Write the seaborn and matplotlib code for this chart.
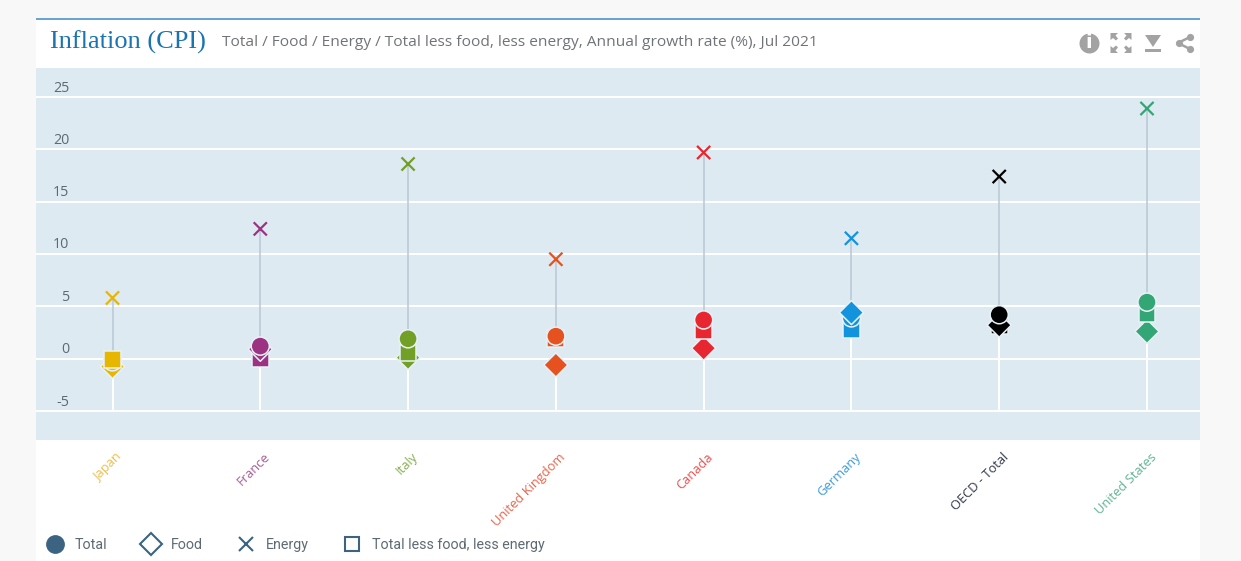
import numpy as np
import pandas as pd
import matplotlib
matplotlib.use("Agg")
import matplotlib.pyplot as plt
import matplotlib.transforms as mtrans
from matplotlib.lines import Line2D
from matplotlib.patches import Rectangle, Polygon
import seaborn as sns

countries = ["Japan", "France", "Italy", "United Kingdom", "Canada", "Germany", "OECD - Total", "United States"]
colors = ["#E6B600", "#9C3282", "#72A026", "#E5521F", "#E8262F", "#1293DD", "#000000", "#32A674"]
label_colors = ["#EDBE4A", "#A85C96", "#86AE50", "#E9644A", "#E8504F", "#3A9BDC", "#30384A", "#5FB592"]
total = [-0.3, 1.2, 1.9, 2.15, 3.7, 3.9, 4.2, 5.4]
food = [-0.75, 0.9, 0.1, -0.6, 1.0, 4.4, 3.2, 2.6]
energy = [5.8, 12.4, 18.6, 9.5, 19.7, 11.5, 17.4, 23.9]
core = [-0.1, 0.0, 0.55, 1.9, 2.65, 2.8, 3.15, 4.3]
yticks = [-5, 0, 5, 10, 15, 20, 25]
title = "Inflation (CPI)"
subtitle = "Total / Food / Energy / Total less food, less energy, Annual growth rate (%), Jul 2021"
legend_labels = ["Total", "Food", "Energy", "Total less food, less energy"]

W, H = 1241, 561
PANEL = "#DEEAF2"
HALO = "#E8F1F6"
GREY = "#B9C8D4"
LEG = "#3B6483"

sns.set_theme(style="darkgrid", rc={
    "axes.facecolor": PANEL, "grid.color": "white", "grid.linewidth": 1.4,
    "figure.facecolor": "#F8F8F8", "axes.edgecolor": PANEL,
})
plt.rcParams["font.family"] = ["Open Sans", "DejaVu Sans"]

fig = plt.figure(figsize=(W / 100, H / 100), dpi=100)
fx = lambda x: x / W
fy = lambda y: 1 - y / H

fig.add_artist(Rectangle((fx(36), 0), fx(1164), fy(18), transform=fig.transFigure, fc="white", ec="none", zorder=-5))
fig.add_artist(Rectangle((fx(36), fy(19.5)), fx(1164), 2 / H, transform=fig.transFigure, fc="#6AA5D1", ec="none", zorder=-4))

ax = fig.add_axes([fx(36), fy(440), fx(1164), (440 - 68) / H])
px_y = (411 - 97) / 30
ax.set_ylim(-5 - (440 - 411) / px_y, 25 + (97 - 68) / px_y)
px_x = (1147 - 112.5) / 7
ax.set_xlim((36 - 112.5) / px_x, (1200 - 112.5) / px_x)
ax.grid(axis="x", visible=False)
ax.set_axisbelow(True)

pos = np.arange(len(countries))
others = np.array([total, food, core])
ax.vlines(pos, others.max(axis=0), energy, color=GREY, lw=1.1, zorder=2)
ax.vlines(pos, -5, others.min(axis=0), color="white", lw=1.4, zorder=2)

long = pd.DataFrame({
    "pos": np.tile(pos, 3),
    "value": np.concatenate([total, food, core]),
    "country": countries * 3,
    "measure": ["Total"] * 8 + ["Food"] * 8 + ["Core"] * 8,
}).sort_values("value")
palette = dict(zip(countries, colors))
sns.scatterplot(data=long, x="pos", y="value", hue="country", palette=palette,
                style="measure", markers={"Total": "o", "Food": "D", "Core": "s"},
                size="measure", sizes={"Total": 170, "Food": 150, "Core": 145},
                edgecolor=HALO, linewidth=1.1, legend=False, ax=ax, zorder=3)
en = pd.DataFrame({"pos": pos, "value": energy, "country": countries})
sns.scatterplot(data=en, x="pos", y="value", hue="country", palette=palette, marker="x",
                s=90, linewidth=1.6, legend=False, ax=ax, zorder=3)

ax.set_xlabel("")
ax.set_ylabel("")
ax.set_xticks(pos)
ax.set_xticklabels(countries)
ax.set_yticks(yticks)
ax.set_yticklabels([str(v) for v in yticks])
ax.tick_params(axis="both", length=0)
ax.tick_params(axis="y", pad=-24, labelsize=10.3, labelcolor="#5E6A73")
ax.tick_params(axis="x", pad=7.5, labelsize=9.3)
for s in ax.spines.values():
    s.set_visible(False)
off_y = mtrans.ScaledTranslation(0, 11 / 100, fig.dpi_scale_trans)
for lab in ax.get_yticklabels():
    lab.set_horizontalalignment("right")
    lab.set_transform(lab.get_transform() + off_y)
off_x = mtrans.ScaledTranslation(3 / 100, 0, fig.dpi_scale_trans)
for lab, c in zip(ax.get_xticklabels(), label_colors):
    lab.set_color(c)
    lab.set_rotation(45)
    lab.set_ha("right")
    lab.set_rotation_mode("anchor")
    lab.set_transform(lab.get_transform() + off_x)

fig.text(fx(50), fy(42), title, family="Liberation Serif", fontsize=19, color="#1A74B0", va="center", ha="left")
fig.text(fx(222), fy(42), subtitle, fontsize=11.15, color="#6F7478", va="center", ha="left")

handles = [
    Line2D([], [], ls="", marker="o", ms=12.5, mfc=LEG, mec=LEG),
    Line2D([], [], ls="", marker="D", ms=11, mfc="none", mec=LEG, mew=1.5),
    Line2D([], [], ls="", marker="x", ms=10.5, mec=LEG, mew=1.5),
    Line2D([], [], ls="", marker="s", ms=10.5, mfc="none", mec=LEG, mew=1.5),
]
leg = fig.legend(handles, legend_labels, ncol=4, frameon=False, loc="center left",
                 bbox_to_anchor=(fx(47), fy(545)), labelcolor="#5E6A73",
                 prop={"family": "Roboto", "size": 10.3},
                 handlelength=1.07, handletextpad=0.86, columnspacing=2.5, borderpad=0, borderaxespad=0)

# toolbar icons
ICON = "#A3A3A3"
tf = fig.transFigure
def P(pts):
    return [(fx(x), fy(y)) for x, y in pts]
def poly(pts):
    fig.add_artist(Polygon(P(pts), closed=True, transform=tf, fc=ICON, ec="none"))
def dot(x, y, r):
    fig.add_artist(Line2D([fx(x)], [fy(y)], marker="o", ms=r * 2 * 0.72, mfc=ICON, mec="none", ls="", transform=tf))
dot(1089, 43, 10)
fig.text(fx(1089), fy(43), "i", color="white", fontsize=14, weight="bold", family="DejaVu Sans", ha="center", va="center")
for sx, sy in [(-1, -1), (1, -1), (-1, 1), (1, 1)]:
    cx, cy = 1121, 43
    poly([(cx + sx * 10.5, cy + sy * 10), (cx + sx * 3, cy + sy * 10), (cx + sx * 5.5, cy + sy * 7.5),
          (cx + sx * 3, cy + sy * 4.5), (cx + sx * 5, cy + sy * 2.5), (cx + sx * 8, cy + sy * 5),
          (cx + sx * 10.5, cy + sy * 3)])
poly([(1145, 35), (1161, 35), (1153, 47)])
poly([(1145, 49), (1161, 49), (1161, 52), (1145, 52)])
for a, b in [((1178, 43), (1190, 37)), ((1178, 43), (1190, 49))]:
    fig.add_artist(Line2D([fx(a[0]), fx(b[0])], [fy(a[1]), fy(b[1])], color=ICON, lw=1.8, transform=tf))
dot(1179, 43, 3.6); dot(1189.5, 37, 3.6); dot(1189.5, 49, 3.6)

fig.savefig("out.png", dpi=100, facecolor=fig.get_facecolor())
